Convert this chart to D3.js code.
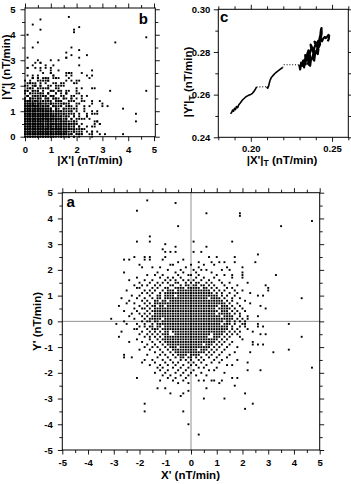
<!DOCTYPE html>
<html>
<head>
<meta charset="utf-8">
<script src="https://cdn.jsdelivr.net/npm/d3@7"></script>
<style>
  body { margin: 0; background: #fff; }
  svg text { font-family: "Liberation Sans", Arial, Helvetica, sans-serif; font-weight: bold; fill: #000; }
</style>
</head>
<body>
<div id="chart"></div>
<script>
// Panel a: rows of the solid core, [y, xmin, xmax] in tenths of nT/min
const coreRows = [
  [12, -4, 4], [11, -6, 5], [10, -7, 7], [9, -8, 8], [8, -9, 9], [7, -10, 10],
  [6, -10, 11], [5, -11, 12], [4, -11, 12], [3, -11, 13], [2, -12, 13], [1, -12, 13],
  [0, -12, 13], [-1, -11, 13], [-2, -11, 12], [-3, -10, 12], [-4, -9, 11], [-5, -8, 10],
  [-6, -8, 9], [-7, -7, 8], [-8, -7, 7], [-9, -6, 6], [-10, -5, 5], [-11, -4, 4], [-12, -3, 3]
];
// empty cells inside the core, [x, y] in tenths
const coreGaps = [
  [-8, -4], [-8, -5], [-7, -5], [7, -6], [8, -6], [8, -5], [9, -7], [10, 5], [11, 4], [10, 3],
  [12, 2], [-11, 1], [-10, 6], [5, -9], [-5, -10], [12, -1], [13, 0], [-9, 8], [7, 9], [-11, -2],
  [11, 6], [-6, 10], [3, -11], [-12, 0]
];

// Panel a: scattered points outside the core, [y, [x, ...]] in tenths of nT/min
const haloRows = [
  [47, [-17]], [46, [-6]], [43, [-21]], [42, [6, 19]], [41, [19]], [39, [47]],
  [37, [-5, 35]], [33, [-16]], [31, [-21, -16, 1, 16]], [30, [-10]], [29, [-6, 6]],
  [28, [-11]], [27, [-10, -8, -6, 1, 4]], [26, [26]],
  [25, [-22, -18, -16, -10, 7, 10, 17]],
  [24, [-26, -24, -18, -16, -11, -3]],
  [23, [-5, 3, 8, 11, 13, 17, 25]],
  [22, [-20, -8, -7, 0, 5, 9]],
  [21, [-19, -15, -12, -2, 3, 14, 20]],
  [20, [-9, -4, 1, 4, 6, 12, 15]],
  [19, [-26, -13, -6, -3, 2, 8, 20]],
  [18, [-17, -14, -11, -5, -1, 0, 3, 10, 13, 16, 20, 33]],
  [17, [-21, -12, -9, -7, -4, 2, 5, 9, 16, 20]],
  [16, [-24, -18, -15, -10, -8, -6, -3, -1, 1, 4, 7, 11]],
  [15, [-20, -16, -13, -11, -9, -6, -5, -2, 0, 2, 3, 6, 8, 12, 15, 22]],
  [14, [-22, -19, -17, -14, -12, -8, -7, -4, -2, -1, 1, 2, 4, 5, 7, 9, 13, 18, 29]],
  [13, [-21, -20, -15, -13, -10, -9, -6, -5, -4, -3, -1, 0, 1, 2, 3, 5, 6, 8, 10, 14, 16, 30]],
  [12, [-25, -18, -16, -14, -11, -9, -8, -7, -5, 5, 6, 7, 9, 11, 13, 17, 20, 30]],
  [11, [-19, -17, -15, -12, -10, -9, -8, -7, 6, 7, 8, 10, 12, 15, 18, 23]],
  [10, [-23, -20, -16, -13, -12, -10, -9, -8, 8, 9, 10, 12, 14, 17, 26, 28]],
  [9, [-27, -21, -18, -15, -13, -12, -10, -9, 9, 10, 11, 13, 16, 19, 43]],
  [8, [-24, -19, -17, -14, -13, -11, -10, 10, 11, 12, 14, 16, 21]],
  [7, [-25, -22, -18, -16, -14, -13, -12, -11, 11, 12, 13, 15, 18, 23]],
  [6, [-28, -20, -17, -15, -14, -12, -11, 12, 13, 14, 16, 19, 27]],
  [5, [-22, -19, -18, -16, -14, -13, -12, 13, 14, 15, 17, 20, 29]],
  [4, [-26, -21, -17, -15, -14, -13, -12, 13, 14, 16, 18, 21]],
  [3, [-23, -20, -18, -16, -14, -13, -12, 14, 15, 17, 19]],
  [2, [-24, -19, -17, -15, -14, -13, 14, 15, 16, 19, 22, 26]],
  [1, [-31, -22, -18, -16, -15, -14, -13, 14, 15, 16, 18, 20, 22]],
  [0, [-26, -19, -17, -16, -14, -13, 14, 15, 17, 19, 21]],
  [-1, [-29, -25, -21, -18, -15, -13, -12, 14, 15, 17, 20, 21, 26, 38]],
  [-2, [-20, -18, -16, -15, -13, -12, 13, 14, 16, 19, 21, 26, 28]],
  [-3, [-22, -21, -17, -15, -14, -13, -11, 13, 14, 16, 18, 22]],
  [-4, [-27, -19, -16, -14, -12, -10, 12, 13, 15, 17, 19, 24]],
  [-5, [-20, -17, -15, -13, -11, -10, -9, 11, 12, 14, 16, 18, 27, 29]],
  [-6, [-28, -18, -16, -14, -12, -10, -9, 10, 11, 13, 15, 19, 43]],
  [-7, [-21, -16, -13, -11, -10, -9, -8, 9, 10, 12, 14, 20]],
  [-8, [-24, -19, -15, -12, -10, -9, -8, 8, 9, 11, 13, 16, 24]],
  [-9, [-17, -14, -11, -9, -8, -7, 7, 8, 10, 12, 15, 24, 26, 28]],
  [-10, [-18, -15, -13, -10, -8, -7, -6, 6, 7, 9, 11, 14, 18]],
  [-11, [-20, -16, -12, -9, -7, -6, -5, 5, 6, 8, 10, 13, 38]],
  [-12, [-14, -11, -8, -6, -5, -4, 4, 5, 7, 9, 12, 17, 23, 32]],
  [-13, [-26, -17, -12, -10, -7, -5, -4, -3, -2, 0, 1, 2, 3, 6, 8, 11, 15]],
  [-14, [-26, -23, -13, -9, -6, -4, -3, -1, 0, 2, 4, 7, 10, 14]],
  [-15, [-18, -15, -11, -8, -4, -2, 0, 3, 5, 9, 12, 18]],
  [-16, [-19, -14, -10, -7, -5, -1, 1, 4, 8, 11, 22]],
  [-17, [-16, -12, -9, -6, -3, 0, 2, 6, 14, 16]],
  [-18, [-13, -11, -7, -4, -1, 3, 5, 10, 47]],
  [-19, [-12, -9, -5, -2, 1, 7, 9, 22, 27]],
  [-20, [-14, -10, -6, -3, 0, 4, 13]],
  [-21, [-11, -8, -4, -1, 2, 6]],
  [-22, [-21, -9, -6, -2, 16, 18]],
  [-23, [-12, -7, -3, 3, 5, 8, 9, 12]],
  [-24, [-5, -1, 11]], [-25, [17]], [-26, [-13, -10, 6]], [-27, [-1]],
  [-28, [-8, -3, 21]], [-29, [-4]], [-30, [5, 13]], [-32, [-18, 24]],
  [-34, [21]], [-35, [-18, -3]], [-40, [-1]], [-44, [3]]
];

// Panel c: running trace |X'|T, |Y'|T (solid runs and sparse jumps)
const traceRunA = [
  [0.1875, 0.2510], [0.1882, 0.2516], [0.1888, 0.2528], [0.1894, 0.2522], [0.1900, 0.2536],
  [0.1906, 0.2530], [0.1912, 0.2544], [0.1919, 0.2539], [0.1926, 0.2553], [0.1934, 0.2560],
  [0.1942, 0.2568], [0.1950, 0.2576], [0.1960, 0.2583], [0.1970, 0.2590], [0.1980, 0.2594],
  [0.1990, 0.2598], [0.2000, 0.2601], [0.2010, 0.2606], [0.2020, 0.2616], [0.2030, 0.2628],
  [0.2036, 0.2636]
];
const traceGapA = [[0.2036, 0.2636], [0.2098, 0.2637]];
const traceRunB = [
  [0.2098, 0.2637], [0.2104, 0.2630], [0.2110, 0.2641], [0.2114, 0.2655], [0.2119, 0.2668],
  [0.2126, 0.2680], [0.2136, 0.2689], [0.2148, 0.2699], [0.2160, 0.2707], [0.2172, 0.2714],
  [0.2184, 0.2721], [0.2196, 0.2727]
];
const traceGapB = [[0.2196, 0.2727], [0.2205, 0.2740], [0.2298, 0.2740]];
const traceRunC = [
  [0.2298, 0.2740], [0.2304, 0.2718], [0.2310, 0.2750], [0.2318, 0.2735], [0.2322, 0.2760],
  [0.2328, 0.2728], [0.2332, 0.2765], [0.2338, 0.2742], [0.2335, 0.2785], [0.2345, 0.2760],
  [0.2350, 0.2795], [0.2342, 0.2778], [0.2355, 0.2808], [0.2360, 0.2770], [0.2352, 0.2745],
  [0.2365, 0.2735], [0.2370, 0.2765], [0.2362, 0.2790], [0.2372, 0.2815], [0.2368, 0.2835],
  [0.2378, 0.2820], [0.2385, 0.2795], [0.2380, 0.2770], [0.2390, 0.2760], [0.2395, 0.2790],
  [0.2388, 0.2812], [0.2398, 0.2835], [0.2392, 0.2848], [0.2405, 0.2842], [0.2410, 0.2818],
  [0.2402, 0.2800], [0.2412, 0.2790], [0.2416, 0.2812], [0.2408, 0.2830], [0.2415, 0.2852],
  [0.2422, 0.2840], [0.2418, 0.2822], [0.2426, 0.2835], [0.2422, 0.2860], [0.2428, 0.2880],
  [0.2432, 0.2905], [0.2435, 0.2912], [0.2436, 0.2888], [0.2430, 0.2862], [0.2438, 0.2850],
  [0.2445, 0.2862], [0.2455, 0.2870], [0.2462, 0.2865], [0.2470, 0.2872], [0.2478, 0.2880],
  [0.2482, 0.2876], [0.2480, 0.2862], [0.2474, 0.2850]
];

// tick labels
const ticksA = [-5, -4, -3, -2, -1, 0, 1, 2, 3, 4, 5];
const ticksB = [0, 1, 2, 3, 4, 5];
const ticksCx = [0.20, 0.25];
const ticksCy = [0.24, 0.26, 0.28, 0.30];

// expand rows into points
const gapSet = new Set(coreGaps.map(d => d.join(",")));
const pointsA = [];
coreRows.forEach(([y, x0, x1]) => {
  for (let x = x0; x <= x1; x++) {
    if (!gapSet.has(x + "," + y)) pointsA.push([x / 10, y / 10]);
  }
});
haloRows.forEach(([y, xs]) => xs.forEach(x => pointsA.push([x / 10, y / 10])));
// panel b shows the absolute values of the same samples
const pointsB = pointsA.map(([x, y]) => [Math.abs(x), Math.abs(y)]);

const width = 351, height = 484;
const svg = d3.select("#chart").append("svg")
  .attr("width", width)
  .attr("height", height);

const DOT = 1.9;
const fmtInt = d => String(d);

function frame(x, y, opt) {
  const g = svg.append("g");
  const [xa, xb] = x.range(), [ya, yb] = y.range();
  const axes = [
    [d3.axisBottom, `translate(0,${ya})`, x, opt.xMajor, opt.xMinor, true],
    [d3.axisTop, `translate(0,${yb})`, x, opt.xMajor, opt.xMinor, false],
    [d3.axisLeft, `translate(${xa},0)`, y, opt.yMajor, opt.yMinor, true],
    [d3.axisRight, `translate(${xb},0)`, y, opt.yMajor, opt.yMinor, false]
  ];
  axes.forEach(([mk, tr, sc, major, minor, labels]) => {
    const gm = g.append("g").attr("transform", tr)
      .call(mk(sc).tickValues(minor).tickSize(3).tickFormat(""));
    gm.select(".domain").remove();
    const gM = g.append("g").attr("transform", tr)
      .call(mk(sc).tickValues(major).tickSize(4.5).tickPadding(opt.pad)
        .tickFormat(labels ? opt.fmt : ""));
    gM.select(".domain").remove();
    gM.attr("font-family", null).attr("font-size", opt.fs);
  });
  g.selectAll(".tick line").attr("stroke", "#000").attr("stroke-width", 0.9);
  g.append("rect")
    .attr("x", xa).attr("y", yb)
    .attr("width", xb - xa).attr("height", ya - yb)
    .attr("fill", "none").attr("stroke", "#000").attr("stroke-width", 1);
  return g;
}

function dots(pts, x, y) {
  svg.append("g").selectAll("rect").data(pts).join("rect")
    .attr("x", d => x(d[0]) - DOT / 2)
    .attr("y", d => y(d[1]) - DOT / 2)
    .attr("width", DOT).attr("height", DOT)
    .attr("fill", "#000");
}

// ---------- panel b ----------
const xB = d3.scaleLinear().domain([0, 5.05]).range([25, 155.3]);
const yB = d3.scaleLinear().domain([0, 5.05]).range([136.7, 8]);
dots(pointsB, xB, yB);
frame(xB, yB, {
  xMajor: ticksB, xMinor: d3.range(0.5, 5, 1), yMajor: ticksB, yMinor: d3.range(0.5, 5, 1),
  pad: 5, fs: 9.5, fmt: fmtInt
});
svg.append("text").attr("x", 148).attr("y", 23.5).attr("text-anchor", "end")
  .attr("font-size", 15).text("b");
svg.append("text").attr("x", 90).attr("y", 163.5).attr("text-anchor", "middle")
  .attr("font-size", 11.5).text("|X'| (nT/min)");
svg.append("text").attr("transform", "translate(9.5,67) rotate(-90)")
  .attr("text-anchor", "middle").attr("font-size", 11.5).text("|Y'| (nT/min)");

// ---------- panel c ----------
const xC = d3.scaleLinear().domain([0.18, 0.26]).range([218.3, 348.3]);
const yC = d3.scaleLinear().domain([0.24, 0.30]).range([137.3, 9.3]);
const line = d3.line().x(d => xC(d[0])).y(d => yC(d[1]));
const gc = svg.append("g");
[traceRunA, traceRunB].forEach(run => {
  gc.append("path").attr("d", line(run)).attr("fill", "none")
    .attr("stroke", "#000").attr("stroke-width", 1.6).attr("stroke-linejoin", "round");
});
gc.append("path").attr("d", line(traceRunC)).attr("fill", "none")
  .attr("stroke", "#000").attr("stroke-width", 2.2).attr("stroke-linejoin", "round");
[traceGapA, traceGapB].forEach(run => {
  gc.append("path").attr("d", line(run)).attr("fill", "none")
    .attr("stroke", "#000").attr("stroke-width", 1.1).attr("stroke-dasharray", "1,1.8");
});
frame(xC, yC, {
  xMajor: ticksCx, xMinor: [0.18, 0.19, 0.21, 0.22, 0.23, 0.24, 0.26],
  yMajor: ticksCy, yMinor: [0.25, 0.27, 0.29],
  pad: 3.5, fs: 9.5, fmt: d3.format(".2f")
});
svg.append("text").attr("x", 220).attr("y", 22).attr("font-size", 15).text("c");
const tx = svg.append("text").attr("x", 282).attr("y", 163.5).attr("text-anchor", "middle")
  .attr("font-size", 11.5);
tx.append("tspan").text("|X'|");
tx.append("tspan").attr("font-size", 8.5).attr("dy", 2.5).text("T");
tx.append("tspan").attr("dy", -2.5).text(" (nT/min)");
const ty = svg.append("text").attr("transform", "translate(192,82) rotate(-90)")
  .attr("text-anchor", "middle").attr("font-size", 11.5);
ty.append("tspan").text("|Y'|");
ty.append("tspan").attr("font-size", 8.5).attr("dy", 2.5).text("T");
ty.append("tspan").attr("dy", -2.5).text(" (nT/min)");

// ---------- panel a ----------
const xA = d3.scaleLinear().domain([-5, 5]).range([62.3, 319.7]);
const yA = d3.scaleLinear().domain([-5, 5]).range([450, 192.7]);
svg.append("line").attr("x1", xA(0)).attr("x2", xA(0)).attr("y1", yA(-5)).attr("y2", yA(5))
  .attr("stroke", "#777").attr("stroke-width", 0.8);
svg.append("line").attr("x1", xA(-5)).attr("x2", xA(5)).attr("y1", yA(0)).attr("y2", yA(0))
  .attr("stroke", "#777").attr("stroke-width", 0.8);
dots(pointsA, xA, yA);
frame(xA, yA, {
  xMajor: ticksA, xMinor: d3.range(-4.5, 5, 1), yMajor: ticksA, yMinor: d3.range(-4.5, 5, 1),
  pad: 5, fs: 9.5, fmt: fmtInt
});
svg.append("text").attr("x", 66.5).attr("y", 207).attr("font-size", 15).text("a");
svg.append("text").attr("x", 190.5).attr("y", 479).attr("text-anchor", "middle")
  .attr("font-size", 11.5).text("X' (nT/min)");
svg.append("text").attr("transform", "translate(41,321.5) rotate(-90)")
  .attr("text-anchor", "middle").attr("font-size", 11.5).text("Y' (nT/min)");
</script>
</body>
</html>
